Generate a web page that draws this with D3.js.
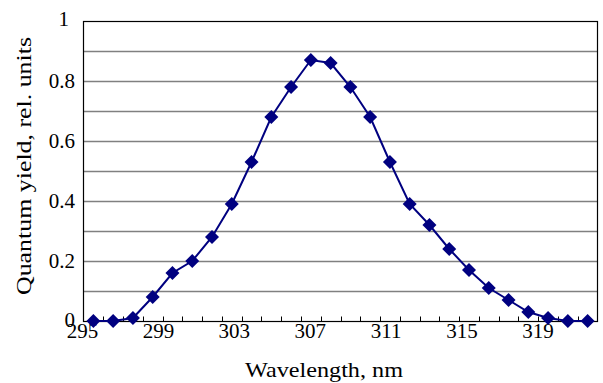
<!DOCTYPE html>
<html>
<head>
<meta charset="utf-8">
<script src="https://cdn.jsdelivr.net/npm/d3@7"></script>
</head>
<body style="margin:0">
<svg id="chart" width="603" height="383" font-family="Liberation Serif"></svg>
<script>
const wavelengths = [295,296,297,298,299,300,301,302,303,304,305,306,307,308,309,310,311,312,313,314,315,316,317,318,319,320];
const quantumYield = [0,0,0.01,0.08,0.16,0.20,0.28,0.39,0.53,0.68,0.78,0.87,0.86,0.78,0.68,0.53,0.39,0.32,0.24,0.17,0.11,0.07,0.03,0.01,0,0];
const xTickLabels = [295,299,303,307,311,315,319];
const yTickLabels = [0,0.2,0.4,0.6,0.8,1];
const yGridValues = [0.1,0.2,0.3,0.4,0.5,0.6,0.7,0.8,0.9];

const svg = d3.select("#chart");
const L = 83.5, R = 597.5, T = 21, B = 321;

const x = d3.scaleBand().domain(wavelengths).range([L, R]);
const cx = d => x(d) + x.bandwidth() / 2;
const y = d3.scaleLinear().domain([0, 1]).range([B, T]);
// label placement scale (labels in the reference are spaced slightly tighter than categories)
const xl = d3.scalePoint().domain(xTickLabels).range([82.5, 538]);

// gridlines
svg.append("g").selectAll("line").data(yGridValues).join("line")
  .attr("x1", L).attr("x2", R)
  .attr("y1", d => Math.round(y(d)) + 0.5).attr("y2", d => Math.round(y(d)) + 0.5)
  .attr("stroke", "#808080").attr("stroke-width", 1.3);

// plot frame
svg.append("rect").attr("x", L).attr("y", T + 0.5).attr("width", R - L).attr("height", B - T)
  .attr("fill", "none").attr("stroke", "#000").attr("stroke-width", 1.2);

// x tick marks at category boundaries (inside)
const boundaries = wavelengths.slice(1).map(d => x(d));
svg.append("g").selectAll("line").data(boundaries).join("line")
  .attr("x1", d => Math.round(d) + 0.5).attr("x2", d => Math.round(d) + 0.5)
  .attr("y1", B + 0.5).attr("y2", B - 4.5)
  .attr("stroke", "#000").attr("stroke-width", 1);

// x labels
svg.append("g").selectAll("text").data(xTickLabels).join("text")
  .attr("x", d => xl(d)).attr("y", B + 17)
  .attr("text-anchor", "middle")
  .attr("font-family", "Liberation Serif").attr("font-size", 21)
  .text(d => d);

// y labels
svg.append("g").selectAll("text").data(yTickLabels).join("text")
  .attr("x", d => d === 1 ? 69 : 75).attr("y", d => y(d) - (d === 0 ? 1 : d === 1 ? 2 : 0) + 7)
  .attr("text-anchor", "end")
  .attr("font-family", "Liberation Serif").attr("font-size", 21)
  .text(d => d3.format("")(d));

// axis titles
svg.append("text").attr("x", 324).attr("y", 377).attr("text-anchor", "middle")
  .attr("font-family", "Times New Roman").attr("font-size", 21)
  .attr("textLength", 158).attr("lengthAdjust", "spacingAndGlyphs")
  .text("Wavelength, nm");
svg.append("text").attr("transform", "translate(31,166) rotate(-90)").attr("text-anchor", "middle")
  .attr("font-family", "Times New Roman").attr("font-size", 21)
  .attr("textLength", 258).attr("lengthAdjust", "spacingAndGlyphs")
  .text("Quantum yield, rel. units");

// line
const line = d3.line().x((d, i) => cx(wavelengths[i])).y(d => y(d));
svg.append("path").datum(quantumYield).attr("d", line)
  .attr("fill", "none").attr("stroke", "#000080").attr("stroke-width", 2);

// markers (diamonds)
svg.append("g").selectAll("path").data(quantumYield).join("path")
  .attr("transform", (d, i) => `translate(${cx(wavelengths[i])},${y(d)}) rotate(45)`)
  .attr("d", d3.symbol().type(d3.symbolSquare).size(98))
  .attr("fill", "#000080");
</script>
</body>
</html>
